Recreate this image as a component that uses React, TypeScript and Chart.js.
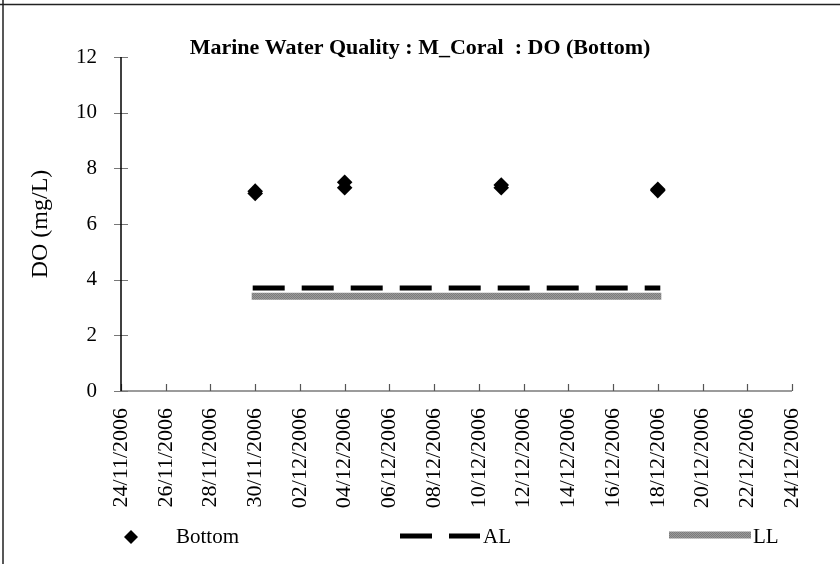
import React, { useEffect, useRef } from "react";
import { Chart, registerables } from "chart.js";

Chart.register(...registerables);

// ---- data ----
const chartTitle = "Marine Water Quality : M_Coral  : DO (Bottom)";
const yAxisTitle = "DO (mg/L)";
const xTickLabels = [
  "24/11/2006", "26/11/2006", "28/11/2006", "30/11/2006", "02/12/2006", "04/12/2006",
  "06/12/2006", "08/12/2006", "10/12/2006", "12/12/2006", "14/12/2006", "16/12/2006",
  "18/12/2006", "20/12/2006", "22/12/2006", "24/12/2006",
];
const yTickValues = [0, 2, 4, 6, 8, 10, 12];
const bottomDates = [
  "30/11/2006", "30/11/2006", "04/12/2006", "04/12/2006",
  "11/12/2006", "11/12/2006", "18/12/2006", "18/12/2006",
];
const bottomValues = [7.1, 7.18, 7.3, 7.5, 7.3, 7.4, 7.2, 7.25];
const limitDates = ["30/11/2006", "04/12/2006", "11/12/2006", "18/12/2006"];
const alValues = [3.7, 3.7, 3.7, 3.7];
const llValues = [3.4, 3.4, 3.4, 3.4];

const FONT = "'Liberation Serif', 'Times New Roman', Times, serif";

function dayStamp(s: string): number {
  const [d, m, y] = s.split("/").map(Number);
  return Date.UTC(y, m - 1, d);
}
const origin = dayStamp(xTickLabels[0]);
const toDay = (s: string) => Math.round((dayStamp(s) - origin) / 86400000);
const xMax = toDay(xTickLabels[xTickLabels.length - 1]);

function makePattern(): CanvasPattern | string {
  const c = document.createElement("canvas");
  c.width = 2;
  c.height = 2;
  const g = c.getContext("2d");
  if (!g) return "#8c8c8c";
  g.fillStyle = "#9a9a9a";
  g.fillRect(0, 0, 2, 2);
  g.fillStyle = "#7c7c7c";
  g.fillRect(0, 0, 1, 1);
  g.fillRect(1, 1, 1, 1);
  return g.createPattern(c, "repeat") || "#8c8c8c";
}

const framePlugin = {
  id: "frame",
  beforeDraw(chart: any) {
    const ctx = chart.ctx;
    ctx.save();
    ctx.fillStyle = "#ffffff";
    ctx.fillRect(0, 0, chart.width, chart.height);
    ctx.strokeStyle = "#222";
    ctx.lineWidth = 1.5;
    ctx.beginPath();
    ctx.moveTo(0, 4.5);
    ctx.lineTo(chart.width, 4.5);
    ctx.moveTo(3, 0);
    ctx.lineTo(3, chart.height);
    ctx.stroke();
    ctx.restore();
  },
};

const axesPlugin = {
  id: "excelAxes",
  beforeDatasetsDraw(chart: any) {
    const ctx = chart.ctx;
    const xs = chart.scales.x;
    const ys = chart.scales.y;
    const { left, right, top, bottom } = chart.chartArea;
    ctx.save();
    // x axis
    ctx.strokeStyle = "#7a7a7a";
    ctx.lineWidth = 1.5;
    ctx.beginPath();
    ctx.moveTo(left, bottom);
    ctx.lineTo(right, bottom);
    ctx.stroke();
    ctx.strokeStyle = "#555";
    ctx.lineWidth = 1.2;
    ctx.beginPath();
    xs.ticks.forEach((t: any) => {
      const px = Math.round(xs.getPixelForValue(t.value)) + 0.5;
      ctx.moveTo(px, bottom);
      ctx.lineTo(px, bottom - 7);
    });
    ctx.stroke();
    // y ticks
    ctx.strokeStyle = "#777";
    ctx.lineWidth = 1.2;
    ctx.beginPath();
    ys.ticks.forEach((t: any) => {
      const py = Math.round(ys.getPixelForValue(t.value)) + 0.5;
      ctx.moveTo(left - 7, py);
      ctx.lineTo(left + 7, py);
    });
    ctx.stroke();
    // y axis
    ctx.strokeStyle = "#000";
    ctx.lineWidth = 1.5;
    ctx.beginPath();
    ctx.moveTo(left, top);
    ctx.lineTo(left, bottom);
    ctx.stroke();
    ctx.restore();
  },
};

const legendPlugin = {
  id: "excelLegend",
  afterDraw(chart: any) {
    const ctx = chart.ctx;
    const ds = chart.data.datasets;
    const y = 537;
    ctx.save();
    ctx.font = `21px ${FONT}`;
    ctx.fillStyle = "#000";
    ctx.textBaseline = "middle";
    ctx.textAlign = "left";
    // Bottom
    ctx.beginPath();
    ctx.moveTo(131, y - 7);
    ctx.lineTo(138, y);
    ctx.lineTo(131, y + 7);
    ctx.lineTo(124, y);
    ctx.closePath();
    ctx.fill();
    ctx.fillText(ds[0].label, 176, y);
    // AL
    ctx.strokeStyle = "#000";
    ctx.lineWidth = 5;
    ctx.lineCap = "butt";
    ctx.beginPath();
    ctx.moveTo(400, y - 1);
    ctx.lineTo(432, y - 1);
    ctx.moveTo(449, y - 1);
    ctx.lineTo(480, y - 1);
    ctx.stroke();
    ctx.fillText(ds[1].label, 483, y);
    // LL
    ctx.strokeStyle = ds[2].borderColor;
    ctx.lineWidth = 7;
    ctx.beginPath();
    ctx.moveTo(669, y - 2);
    ctx.lineTo(751, y - 2);
    ctx.stroke();
    ctx.fillText(ds[2].label, 753, y);
    ctx.restore();
  },
};

export default function App() {
  const ref = useRef<HTMLCanvasElement | null>(null);

  useEffect(() => {
    if (!ref.current) return;
    const pattern = makePattern();
    const chart = new Chart(ref.current, {
      type: "scatter",
      data: {
        datasets: [
          {
            label: "Bottom",
            data: bottomDates.map((d, i) => ({ x: toDay(d), y: bottomValues[i] })),
            pointStyle: "rectRot",
            pointRadius: 7.8,
            backgroundColor: "#000",
            borderColor: "#000",
            borderWidth: 0,
            showLine: false,
            order: 0,
          },
          {
            label: "AL",
            type: "line",
            data: limitDates.map((d, i) => ({ x: toDay(d), y: alValues[i] })),
            borderColor: "#000",
            borderWidth: 5,
            borderDash: [27, 22],
            borderCapStyle: "square",
            pointRadius: 0,
            showLine: true,
            fill: false,
            order: 1,
          },
          {
            label: "LL",
            type: "line",
            data: limitDates.map((d, i) => ({ x: toDay(d), y: llValues[i] })),
            borderColor: pattern as any,
            borderWidth: 7,
            borderCapStyle: "square",
            pointRadius: 0,
            showLine: true,
            fill: false,
            order: 2,
          },
        ],
      },
      options: {
        responsive: false,
        animation: false,
        events: [],
        layout: { padding: { left: 24, right: 24, top: 0, bottom: 0 } },
        plugins: {
          legend: { display: false },
          tooltip: { enabled: false },
          title: {
            display: true,
            text: chartTitle,
            color: "#000",
            font: { family: FONT, size: 22, weight: "bold", lineHeight: 1 },
            padding: { top: 37, bottom: -2 },
          },
        },
        scales: {
          x: {
            type: "linear",
            min: 0,
            max: xMax,
            grid: { display: false, drawTicks: false },
            border: { display: false },
            ticks: {
              stepSize: 2,
              autoSkip: false,
              maxRotation: 90,
              minRotation: 90,
              padding: 17,
              color: "#000",
              font: { family: FONT, size: 22 },
              callback: (v: any) => xTickLabels[Math.round(Number(v) / 2)] ?? "",
            },
            afterFit: (s: any) => {
              s.height = 173;
              s.paddingLeft = 0;
              s.paddingRight = 48;
            },
          },
          y: {
            min: 0,
            max: 12,
            grid: { display: false, drawTicks: false },
            border: { display: false },
            afterBuildTicks: (s: any) => {
              s.ticks = yTickValues.map((v) => ({ value: v }));
            },
            ticks: {
              padding: 24,
              color: "#000",
              font: { family: FONT, size: 21 },
            },
            title: {
              display: true,
              text: yAxisTitle,
              color: "#000",
              font: { family: FONT, size: 24, lineHeight: 1.2 },
              padding: { top: 2, bottom: 0 },
            },
            afterFit: (s: any) => {
              s.width = 97;
              s.paddingTop = 0;
              s.paddingBottom = 0;
            },
          },
        },
      },
      plugins: [framePlugin, axesPlugin, legendPlugin],
    });
    return () => chart.destroy();
  }, []);

  return (
    <div style={{ position: "absolute", left: 0, top: 0, width: 840, height: 564, background: "#fff" }}>
      <canvas ref={ref} width={840} height={564} style={{ display: "block", width: 840, height: 564 }} />
    </div>
  );
}
